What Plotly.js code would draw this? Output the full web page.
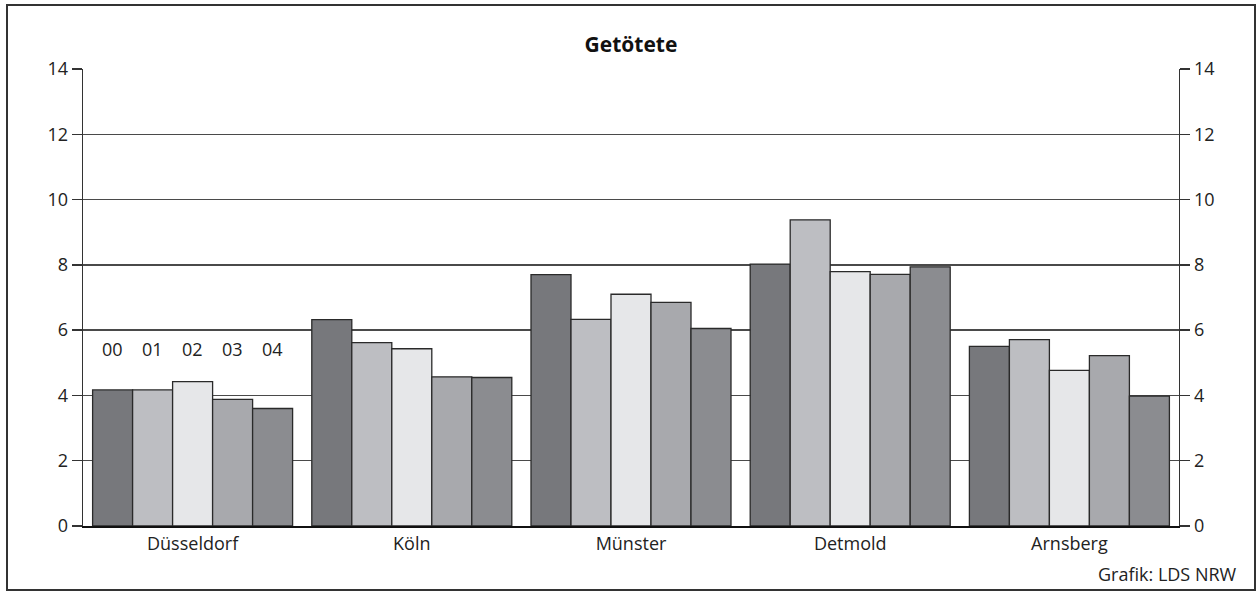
<!DOCTYPE html>
<html>
<head>
<meta charset="utf-8">
<script src="https://cdn.plot.ly/plotly-3.0.1.min.js"></script>
<style>
  html, body { margin: 0; padding: 0; background: #fff; }
  #chart { width: 1257px; height: 592px; }
</style>
</head>
<body>
<div id="chart"></div>
<script>
const categories = ['Düsseldorf', 'Köln', 'Münster', 'Detmold', 'Arnsberg'];
const years = ['00', '01', '02', '03', '04'];
const v2000 = [4.17, 6.32, 7.70, 8.02, 5.50];
const v2001 = [4.17, 5.62, 6.33, 9.38, 5.71];
const v2002 = [4.42, 5.43, 7.10, 7.79, 4.77];
const v2003 = [3.88, 4.57, 6.85, 7.71, 5.22];
const v2004 = [3.60, 4.55, 6.05, 7.94, 3.98];
const yearLabelLevel = 5.42;
const yTicks = [0, 2, 4, 6, 8, 10, 12, 14];

const series = [v2000, v2001, v2002, v2003, v2004];
const colors = ['#77787c', '#bdbec2', '#e6e7e9', '#a8a9ad', '#8b8c90'];
const font = "'Open Sans', 'Noto Sans', sans-serif";

const traces = series.map((vals, i) => ({
  type: 'bar',
  name: years[i],
  x: categories,
  y: vals,
  marker: { color: colors[i], line: { color: '#2a2a2a', width: 1.3 } },
  hoverinfo: 'skip'
}));

const plotW = 1096;
const barPx = plotW / categories.length * (1 - 0.0876) / years.length;

const annotations = years.map((yr, i) => ({
  x: categories[0], y: yearLabelLevel, xref: 'x', yref: 'y',
  text: yr, showarrow: false, xshift: (i - 2) * barPx,
  font: { family: font, size: 18, color: '#222' }
}));
annotations.push({
  xref: 'paper', yref: 'paper', x: (1239 - 83) / plotW, y: (526 - 574) / 457,
  xanchor: 'right', yanchor: 'middle', showarrow: false,
  text: 'Grafik: LDS NRW', font: { family: font, size: 18, color: '#222' }
});

const yAxisCommon = {
  range: [0, 14], tickvals: yTicks, ticktext: yTicks.map(String),
  ticks: 'outside', ticklen: 10, tickwidth: 1.3, tickcolor: '#333',
  showline: true, linecolor: '#333', linewidth: 1.3,
  tickfont: { family: font, size: 18, color: '#222' },
  fixedrange: true, zeroline: false
};

const layout = {
  width: 1257, height: 592,
  margin: { l: 83, r: 78, t: 69, b: 66 },
  paper_bgcolor: '#fff', plot_bgcolor: '#fff',
  showlegend: false,
  barmode: 'group', bargap: 0.0876, bargroupgap: 0,
  title: {
    text: '<b>Getötete</b>', x: 0.502, xanchor: 'center',
    y: 1 - 45 / 592, yanchor: 'middle',
    font: { family: font, size: 21, color: '#111' }
  },
  xaxis: {
    type: 'category', showline: true, linecolor: '#111', linewidth: 2,
    ticks: '', showgrid: false,
    tickfont: { family: font, size: 18, color: '#222' }, fixedrange: true
  },
  yaxis: Object.assign({}, yAxisCommon, {
    showgrid: true, gridcolor: '#4a4a4a', gridwidth: 1.3
  }),
  yaxis2: Object.assign({}, yAxisCommon, {
    overlaying: 'y', side: 'right', showgrid: false, matches: 'y'
  }),
  annotations: annotations,
  shapes: [{
    type: 'rect', xref: 'paper', yref: 'paper',
    x0: (7 - 83) / plotW, x1: (1255 - 83) / plotW,
    y0: (526 - 590) / 457, y1: (526 - 5) / 457,
    line: { color: '#333', width: 2 }, fillcolor: 'rgba(0,0,0,0)'
  }]
};

// invisible trace to anchor right axis
traces.push({ type: 'scatter', x: [categories[0]], y: [0], yaxis: 'y2', mode: 'markers', marker: { opacity: 0 }, hoverinfo: 'skip', showlegend: false });

Plotly.newPlot('chart', traces, layout, { displayModeBar: false, staticPlot: true });
</script>
</body>
</html>
